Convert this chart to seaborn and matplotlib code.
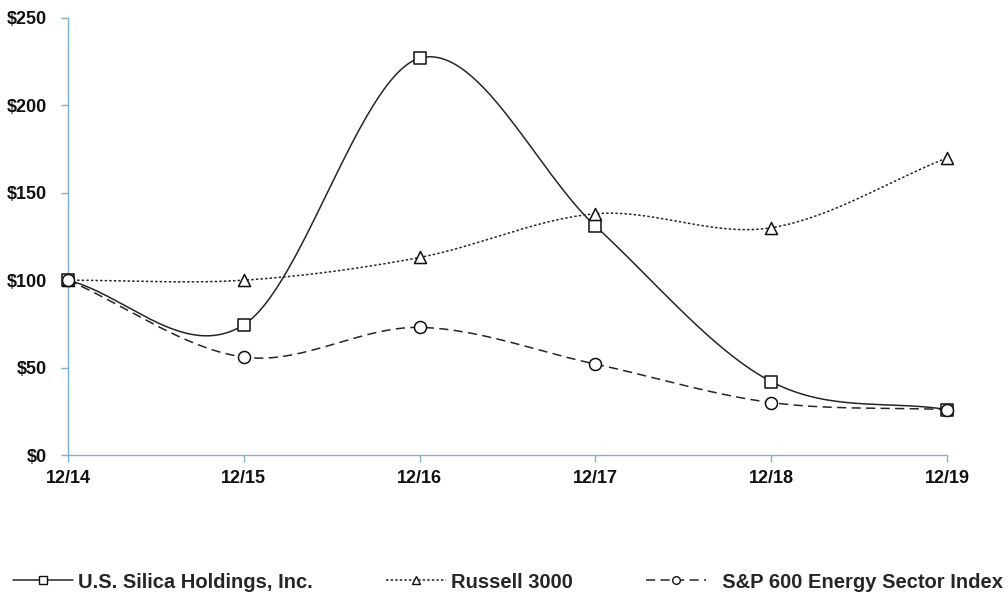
import numpy as np
import pandas as pd
import seaborn as sns
import matplotlib
matplotlib.use("Agg")
import matplotlib.pyplot as plt
from matplotlib.lines import Line2D

# ---- data ----
periods = ["12/14", "12/15", "12/16", "12/17", "12/18", "12/19"]
silica = [100, 74.5, 227, 131, 42, 26]
russell = [100, 100, 113, 138, 130, 170]
sp600_energy = [100, 56, 73, 52, 30, 26]
series_names = ["U.S. Silica Holdings, Inc.", "Russell 3000", "S&P 600 Energy Sector Index"]
y_ticks = [0, 50, 100, 150, 200, 250]

sns.set_theme(style="white")
plt.rcParams['font.family'] = ['Liberation Sans', 'DejaVu Sans']


def smooth(y, n=60):
    """Cardinal (Catmull-Rom) smoothing through the points, Excel-like."""
    y = np.asarray(y, float)
    x = np.arange(len(y), dtype=float)
    xs, ys = [], []
    last = len(y) - 2
    for i in range(len(y) - 1):
        p1, p2 = y[i], y[i + 1]
        m1 = (y[i + 1] - y[i - 1]) / 2 if i > 0 else (p2 - p1)
        m2 = (y[i + 2] - y[i]) / 2 if i + 2 < len(y) else (p2 - p1)
        t = np.linspace(0, 1, n, endpoint=(i == last))
        h00 = 2*t**3 - 3*t**2 + 1
        h10 = t**3 - 2*t**2 + t
        h01 = -2*t**3 + 3*t**2
        h11 = t**3 - t**2
        xs.append(x[i] + t)
        ys.append(h00*p1 + h10*m1 + h01*p2 + h11*m2)
    return np.concatenate(xs), np.concatenate(ys)


fig = plt.figure(figsize=(10.08, 5.94), dpi=100)
ax = fig.add_axes([68/1008, 1 - 455/594, (947-68)/1008, (455-18)/594])

styles = [
    dict(marker="s", dashes=None),
    dict(marker="^", dashes=(1.6, 1.4)),
    dict(marker="o", dashes=(6, 3.5)),
]
all_series = [silica, russell, sp600_energy]
line_color = "#262626"
handles = []
for name, vals, st in zip(series_names, all_series, styles):
    xs, ys = smooth(vals)
    df = pd.DataFrame({"x": xs, "y": ys})
    sns.lineplot(data=df, x="x", y="y", ax=ax, color=line_color, lw=1.1,
                 sort=False, estimator=None)
    ln = ax.lines[-1]
    if st["dashes"] is not None:
        ln.set_dashes(st["dashes"])
    pts = pd.DataFrame({"x": np.arange(len(vals)), "y": vals})
    sns.scatterplot(data=pts, x="x", y="y", ax=ax, marker=st["marker"], s=75,
                    facecolor="white", edgecolor="#111111", linewidth=1.1, zorder=5)
    h = Line2D([0], [0], color=line_color, lw=1.1, marker=st["marker"], markersize=5.5,
               markerfacecolor="white", markeredgecolor="#111111")
    if st["dashes"] is not None:
        h.set_dashes(st["dashes"])
    handles.append(h)

ax.set_xlim(0, len(periods) - 1)
ax.set_ylim(0, 250)
ax.set_xticks(range(len(periods)))
ax.set_xticklabels(periods)
ax.set_yticks(y_ticks)
ax.set_yticklabels([f"${v}" for v in y_ticks])
ax.set_xlabel("")
ax.set_ylabel("")
for lab in ax.get_xticklabels() + ax.get_yticklabels():
    lab.set_fontweight("bold")
    lab.set_fontsize(13)
    lab.set_color("#111111")

spine_color = "#7fb0d0"
for s in ["top", "right"]:
    ax.spines[s].set_visible(False)
for s in ["left", "bottom"]:
    ax.spines[s].set_color(spine_color)
    ax.spines[s].set_linewidth(1.0)
ax.tick_params(axis="both", which="both", direction="out", length=5, width=1,
               color=spine_color, bottom=True, left=True)
ax.tick_params(axis="y", pad=10)
ax.tick_params(axis="x", pad=6)
for ln in ax.lines:
    ln.set_clip_on(False)
for c in ax.collections:
    c.set_clip_on(False)

leg = fig.legend(handles, [series_names[0], series_names[1], "  " + series_names[2]],
                 loc="center left", ncol=3,
                 bbox_to_anchor=(13/1008, 1 - 582/594), frameon=False,
                 borderpad=0, borderaxespad=0, columnspacing=3.6,
                 handlelength=3.0, handletextpad=0.25,
                 prop={"weight": "bold", "size": 14.5})

fig.savefig("out.png", dpi=100)
